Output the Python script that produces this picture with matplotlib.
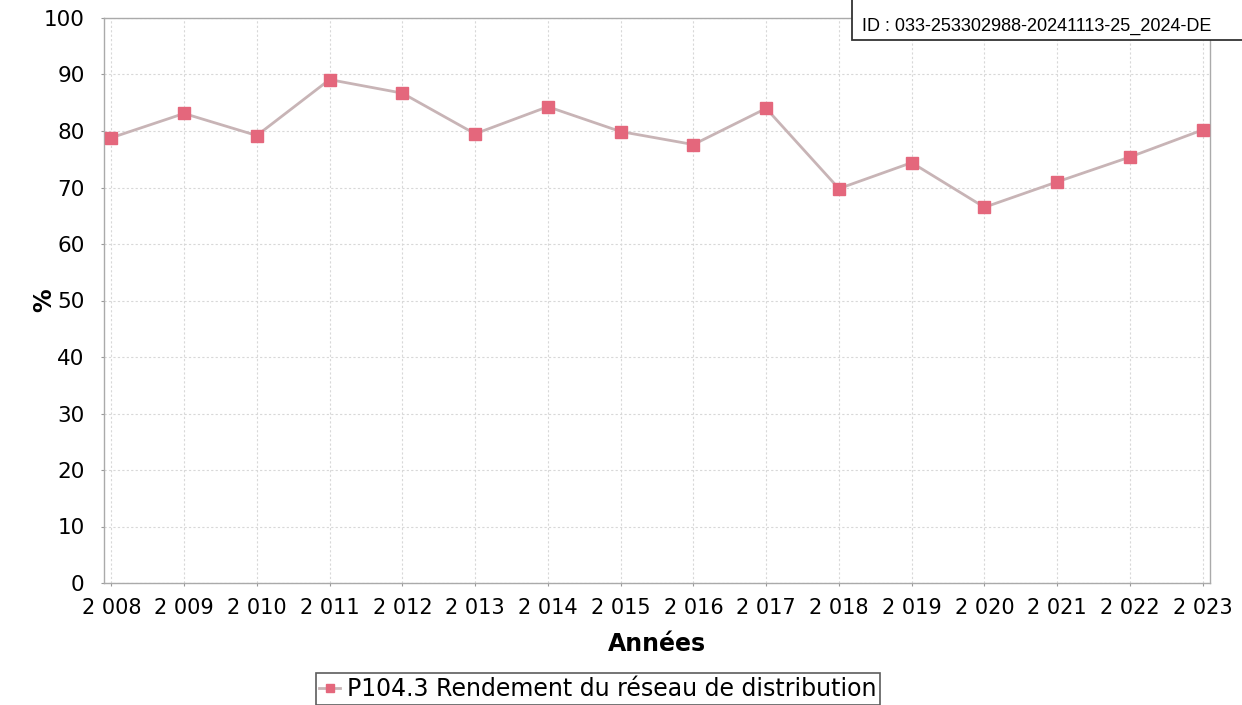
import matplotlib
matplotlib.use("Agg")
import matplotlib.pyplot as plt
from matplotlib.ticker import FixedLocator
from matplotlib.patches import Rectangle

years = [2008, 2009, 2010, 2011, 2012, 2013, 2014, 2015, 2016, 2017, 2018, 2019, 2020, 2021, 2022, 2023]
values = [78.8, 83.1, 79.2, 89.1, 86.7, 79.5, 84.3, 79.9, 77.6, 84.0, 69.8, 74.4, 66.5, 71.0, 75.4, 80.2]
year_labels = ["2 008", "2 009", "2 010", "2 011", "2 012", "2 013", "2 014", "2 015", "2 016",
               "2 017", "2 018", "2 019", "2 020", "2 021", "2 022", "2 023"]
y_ticks = [0, 10, 20, 30, 40, 50, 60, 70, 80, 90, 100]
series_name = "P104.3 Rendement du réseau de distribution"
id_text = "ID : 033-253302988-20241113-25_2024-DE"

W, H = 1242, 705
fig = plt.figure(figsize=(W / 100, H / 100), dpi=100)
ax = fig.add_axes([104 / W, 1 - 583 / H, (1210 - 104) / W, (583 - 18) / H])

ax.plot(years, values, color="#c8b4b6", linewidth=2.0, marker="s", markersize=8,
        markerfacecolor="#e4677c", markeredgecolor="#e4677c", label=series_name, zorder=3)

ax.set_xlim(2007.9, 2023.1)
ax.set_ylim(0, 100)
ax.xaxis.set_major_locator(FixedLocator(years))
ax.set_xticklabels(year_labels)
ax.set_yticks(y_ticks)
ax.grid(True, color="#d8d8d8", linestyle=(0, (2, 2)), linewidth=0.8)
ax.tick_params(axis="x", labelsize=15, length=2, color="#999999", pad=9)
ax.tick_params(axis="y", labelsize=15.5, length=2, color="#999999", pad=12)
for s in ax.spines.values():
    s.set_color("#aaaaaa")
    s.set_linewidth(1.0)

ax.set_xlabel("Années", fontsize=17, fontweight="bold", labelpad=10)
ax.set_ylabel("%", fontsize=17, fontweight="bold")
ax.yaxis.set_label_coords((56 - 104) / (1210 - 104), (583 - 300) / (583 - 18))

leg = fig.legend(loc="center", bbox_to_anchor=(598 / W, 1 - 689 / H), frameon=True,
                 fontsize=17, handlelength=0.9, handletextpad=0.3, borderpad=0.15,
                 fancybox=False, edgecolor="#333333", markerscale=0.7)
leg.get_frame().set_linewidth(1.2)

box = Rectangle((852 / W, 1 - 40 / H), (W + 10 - 852) / W, 60 / H, transform=fig.transFigure,
                facecolor="white", edgecolor="#333333", linewidth=1.3, clip_on=False, zorder=5)
fig.add_artist(box)
fig.text(862 / W, 1 - 26 / H, id_text, fontsize=13, ha="left", va="center",
         family="Liberation Sans", zorder=6)

fig.savefig("out.png", dpi=100)
